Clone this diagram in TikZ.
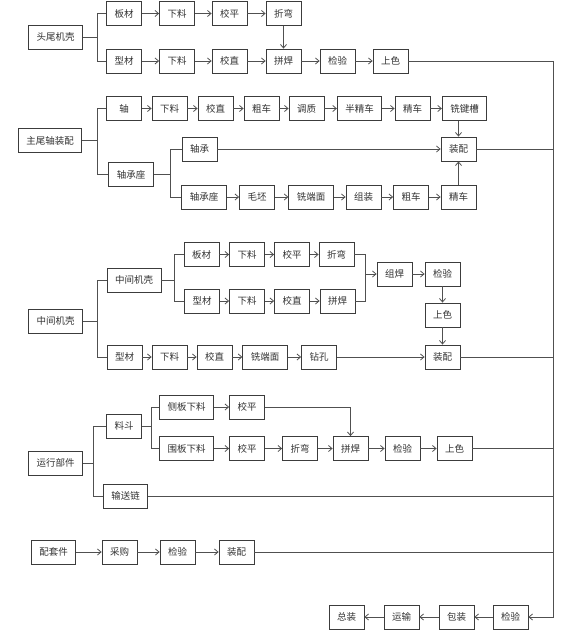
\documentclass[tikz,border=0pt]{standalone}
\usepackage{fontspec}
\setmainfont{Noto Sans CJK SC}
\usetikzlibrary{arrows.meta}
\definecolor{boxLine}{HTML}{3C3C3C}
\definecolor{linkLine}{HTML}{505050}
\definecolor{labelText}{HTML}{333333}

\begin{document}
\begin{tikzpicture}[
  x=1pt, y=-1pt,
  font=\fontsize{9.5}{11}\selectfont,
  proc/.style={draw=boxLine, line width=0.8pt, fill=white, text=labelText, minimum width=35pt, minimum height=24pt, inner xsep=8pt, inner ysep=0pt},
  link/.style={draw=linkLine, line width=0.8pt},
  flow/.style={link, -{Straight Barb[length=3.5pt,width=6pt]}}
]
\useasboundingbox (0,0) rectangle (563,631);

\node[proc] (tw) at (55.5,37) {头尾机壳};
\node[proc] (bc1) at (124,13.5) {板材};
\node[proc] (xl1) at (177,13.5) {下料};
\node[proc] (jp1) at (229.5,13.5) {校平};
\node[proc] (zw1) at (283.5,13.5) {折弯};
\node[proc] (xc1) at (124,61) {型材};
\node[proc] (xl2) at (177,61) {下料};
\node[proc] (jz1) at (229.5,61) {校直};
\node[proc] (ph1) at (283.5,61) {拼焊};
\node[proc] (jy1) at (337.5,61) {检验};
\node[proc] (ss1) at (390.5,61) {上色};

\node[proc] (zwz) at (50,140.5) {主尾轴装配};
\node[proc] (z) at (124,108.5) {轴};
\node[proc] (xl3) at (169.5,108.5) {下料};
\node[proc] (jz2) at (215.5,108.5) {校直};
\node[proc] (cc1) at (261.5,108.5) {粗车};
\node[proc] (tz) at (306.5,108.5) {调质};
\node[proc] (bjc) at (359.5,108.5) {半精车};
\node[proc] (jc1) at (412.5,108.5) {精车};
\node[proc] (xjc) at (464.5,108.5) {铣键槽};
\node[proc] (zp1) at (458.5,149) {装配};
\node[proc] (zcz1) at (131,174.5) {轴承座};
\node[proc] (zc) at (199.5,149) {轴承};
\node[proc] (zcz2) at (204,197) {轴承座};
\node[proc] (mp) at (257,197) {毛坯};
\node[proc] (xdm1) at (311,197) {铣端面};
\node[proc] (zz) at (363.5,197) {组装};
\node[proc] (cc2) at (411,197) {粗车};
\node[proc] (jc2) at (458.5,197) {精车};

\node[proc] (zj) at (55.5,321) {中间机壳};
\node[proc] (zj2) at (134,280) {中间机壳};
\node[proc] (bc2) at (201.5,254.5) {板材};
\node[proc] (xl4) at (247,254.5) {下料};
\node[proc] (jp2) at (292,254.5) {校平};
\node[proc] (zw2) at (336.5,254.5) {折弯};
\node[proc] (xc2) at (202,301) {型材};
\node[proc] (xl5) at (247,301) {下料};
\node[proc] (jz3) at (292,301) {校直};
\node[proc] (ph2) at (337.5,301) {拼焊};
\node[proc] (zh) at (394.5,274) {组焊};
\node[proc] (jy2) at (442.5,274) {检验};
\node[proc] (ss2) at (442.5,315) {上色};
\node[proc] (zp2) at (442.5,357) {装配};
\node[proc] (xc3) at (124.5,357) {型材};
\node[proc] (xl6) at (169.5,357) {下料};
\node[proc] (jz4) at (214.5,357) {校直};
\node[proc] (xdm2) at (265,357) {铣端面};
\node[proc] (zk) at (319,357) {钻孔};

\node[proc] (yx) at (55.5,463) {运行部件};
\node[proc] (ld) at (124,426) {料斗};
\node[proc] (cbxl) at (186.5,407) {侧板下料};
\node[proc] (jp3) at (247,407) {校平};
\node[proc] (wbxl) at (186.5,448.5) {围板下料};
\node[proc] (jp4) at (247,448.5) {校平};
\node[proc] (zw3) at (300,448.5) {折弯};
\node[proc] (ph3) at (350.5,448.5) {拼焊};
\node[proc] (jy3) at (402.5,448.5) {检验};
\node[proc] (ss3) at (454.5,448.5) {上色};
\node[proc] (ssl) at (125.5,496) {输送链};

\node[proc] (ptj) at (53.5,552) {配套件};
\node[proc] (cg) at (119.5,552) {采购};
\node[proc] (jy4) at (177.5,552) {检验};
\node[proc] (zp3) at (236.5,552) {装配};

\node[proc] (zz2) at (346.5,617) {总装};
\node[proc] (ys) at (401.5,617) {运输};
\node[proc] (bz) at (456.5,617) {包装};
\node[proc] (jy5) at (510.5,617) {检验};

\coordinate (bus) at (553,61);
\coordinate (b1) at (97,37);
\coordinate (b2) at (97,140.5);
\coordinate (b3) at (170,174.5);
\coordinate (b4) at (97,321);
\coordinate (b5) at (174,280);
\coordinate (m1) at (365,274);
\coordinate (b6) at (93,463);
\coordinate (b7) at (151,426);

\draw[link] (tw.east) -- (b1) |- (bc1.west);
\draw[link] (b1) |- (xc1.west);
\draw[flow] (bc1) -- (xl1);
\draw[flow] (xl1) -- (jp1);
\draw[flow] (jp1) -- (zw1);
\draw[flow] (zw1) -- (ph1);
\draw[flow] (xc1) -- (xl2);
\draw[flow] (xl2) -- (jz1);
\draw[flow] (jz1) -- (ph1);
\draw[flow] (ph1) -- (jy1);
\draw[flow] (jy1) -- (ss1);

\draw[link] (zwz.east) -- (b2) |- (z.west);
\draw[link] (b2) |- (zcz1.west);
\draw[flow] (z) -- (xl3);
\draw[flow] (xl3) -- (jz2);
\draw[flow] (jz2) -- (cc1);
\draw[flow] (cc1) -- (tz);
\draw[flow] (tz) -- (bjc);
\draw[flow] (bjc) -- (jc1);
\draw[flow] (jc1) -- (xjc);
\draw[flow] (xjc.south -| zp1) -- (zp1.north);
\draw[link] (zcz1.east) -- (b3) |- (zc.west);
\draw[link] (b3) |- (zcz2.west);
\draw[flow] (zc) -- (zp1);
\draw[flow] (zcz2) -- (mp);
\draw[flow] (mp) -- (xdm1);
\draw[flow] (xdm1) -- (zz);
\draw[flow] (zz) -- (cc2);
\draw[flow] (cc2) -- (jc2);
\draw[flow] (jc2) -- (zp1);

\draw[link] (zj.east) -- (b4) |- (zj2.west);
\draw[link] (b4) |- (xc3.west);
\draw[link] (zj2.east) -- (b5) |- (bc2.west);
\draw[link] (b5) |- (xc2.west);
\draw[flow] (bc2) -- (xl4);
\draw[flow] (xl4) -- (jp2);
\draw[flow] (jp2) -- (zw2);
\draw[flow] (xc2) -- (xl5);
\draw[flow] (xl5) -- (jz3);
\draw[flow] (jz3) -- (ph2);
\draw[link] (zw2.east) -| (m1);
\draw[link] (ph2.east) -| (m1);
\draw[flow] (m1) -- (zh.west);
\draw[flow] (zh) -- (jy2);
\draw[flow] (jy2) -- (ss2);
\draw[flow] (ss2) -- (zp2);
\draw[flow] (xc3) -- (xl6);
\draw[flow] (xl6) -- (jz4);
\draw[flow] (jz4) -- (xdm2);
\draw[flow] (xdm2) -- (zk);
\draw[flow] (zk) -- (zp2);

\draw[link] (yx.east) -- (b6) |- (ld.west);
\draw[link] (b6) |- (ssl.west);
\draw[link] (ld.east) -- (b7) |- (cbxl.west);
\draw[link] (b7) |- (wbxl.west);
\draw[flow] (cbxl) -- (jp3);
\draw[flow] (jp3.east) -| (ph3.north);
\draw[flow] (wbxl) -- (jp4);
\draw[flow] (jp4) -- (zw3);
\draw[flow] (zw3) -- (ph3);
\draw[flow] (ph3) -- (jy3);
\draw[flow] (jy3) -- (ss3);

\draw[flow] (ptj) -- (cg);
\draw[flow] (cg) -- (jy4);
\draw[flow] (jy4) -- (zp3);

\draw[link] (ss1.east) -- (bus);
\draw[link] (zp1.east) -- (zp1.east -| bus);
\draw[link] (zp2.east) -- (zp2.east -| bus);
\draw[link] (ss3.east) -- (ss3.east -| bus);
\draw[link] (ssl.east) -- (ssl.east -| bus);
\draw[link] (zp3.east) -- (zp3.east -| bus);
\draw[flow] (bus) |- (jy5.east);
\draw[flow] (jy5) -- (bz);
\draw[flow] (bz) -- (ys);
\draw[flow] (ys) -- (zz2);
\end{tikzpicture}
\end{document}
